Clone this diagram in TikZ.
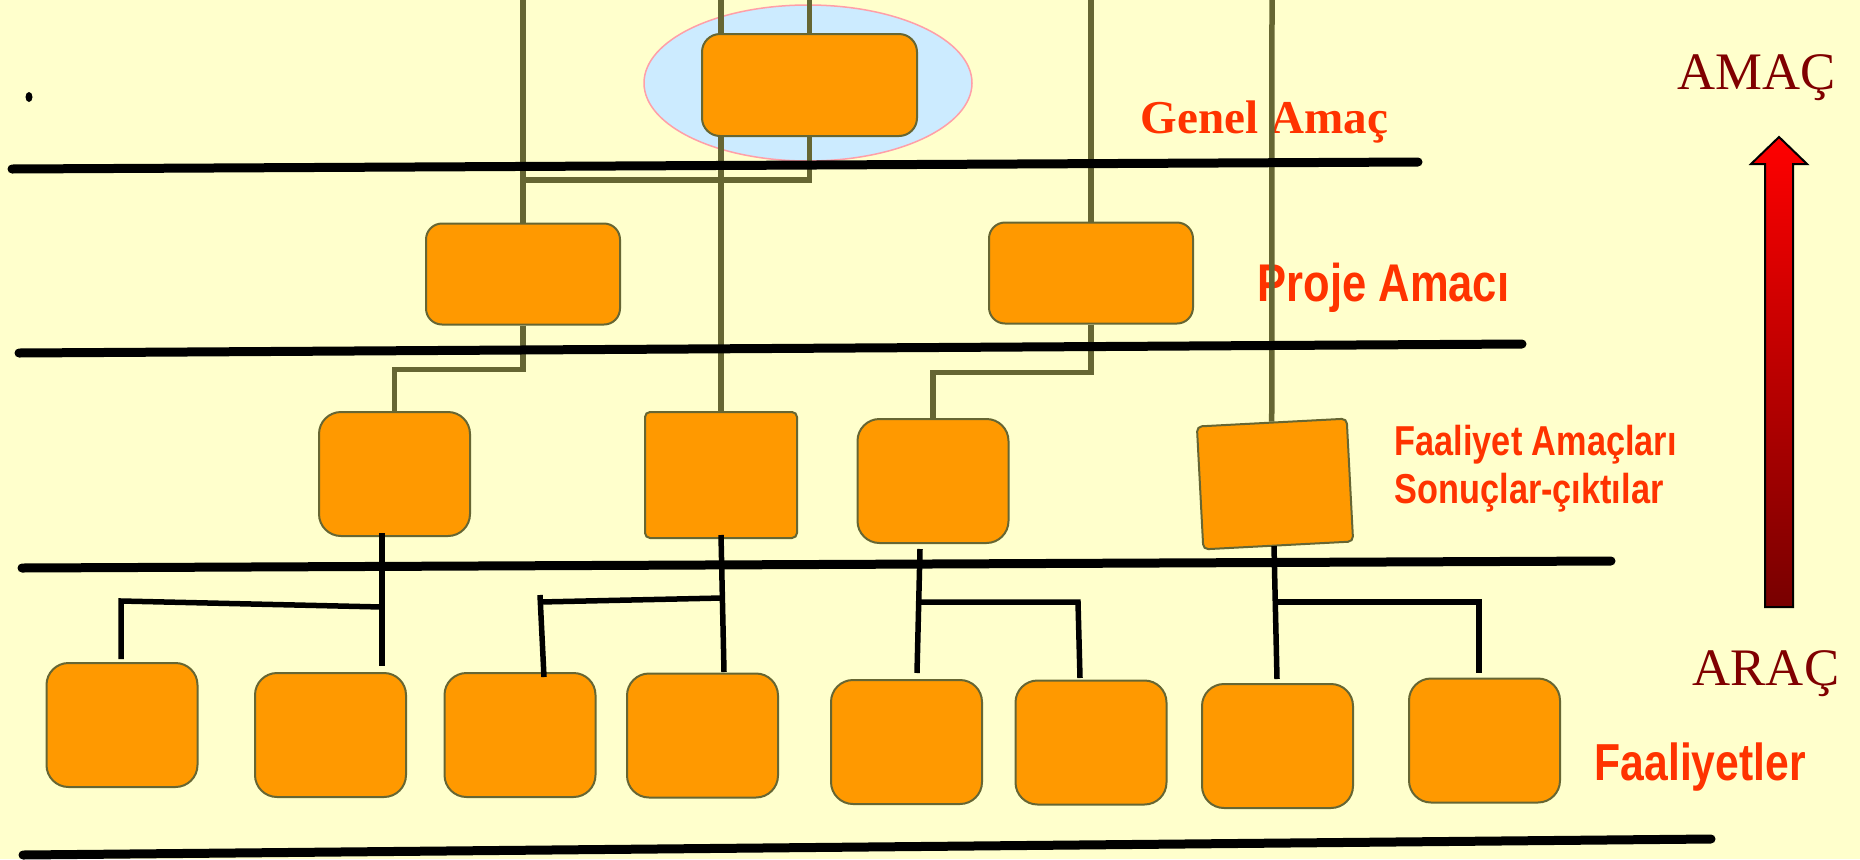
\documentclass[tikz,border=0pt]{standalone}
\usepackage{fontspec}
\setmainfont{Liberation Serif}
\newfontfamily\nsans[FakeStretch=0.82]{Liberation Sans}
\definecolor{bgc}{HTML}{FFFFCC}
\definecolor{olv}{HTML}{666633}
\definecolor{orng}{HTML}{FF9900}
\definecolor{lblred}{HTML}{FF3300}
\definecolor{dred}{HTML}{800000}
\definecolor{dred2}{HTML}{780000}
\definecolor{lblue}{HTML}{CCEBFF}
\definecolor{pinkc}{HTML}{FF9FA8}
\pgfdeclarelayer{back}
\pgfsetlayers{back,main}
\begin{document}
\begin{tikzpicture}[x=0.1mm,y=-0.1mm,
  box/.style={draw=olv, line width=0.2mm, fill=orng, minimum width=15.1mm,
    minimum height=12.4mm, inner sep=0pt, rounded corners=2.2mm},
  oline/.style={draw=olv, line width=0.55mm},
  bline/.style={draw=black, line width=0.55mm},
  rule/.style={draw=black, line width=0.9mm, line cap=round},
  lbl/.style={text=lblred, anchor=base west, inner sep=0pt}]
\useasboundingbox (0,0) rectangle (1860,859);

% boxes
\node[box, rounded corners=1.8mm, minimum width=21.5mm, minimum height=10.2mm] (top) at (809.5,85) {};
\node[box, rounded corners=1.6mm, minimum width=19.4mm, minimum height=10.1mm] (PL) at (523,274) {};
\node[box, rounded corners=1.6mm, minimum width=20.4mm, minimum height=10.1mm] (PR) at (1091,273) {};
\node[box] (A1) at (394.5,474) {};
\node[box, rounded corners=0.5mm, minimum width=15.2mm, minimum height=12.6mm] (A2) at (721,475) {};
\node[box] (A3) at (933,481) {};
\node[box, rounded corners=0.5mm, minimum width=15mm, minimum height=12.3mm, rotate=3] (A4) at (1275,484) {};
\node[box] (B1) at (122,725) {};
\node[box] (B2) at (330.5,735) {};
\node[box] (B3) at (520,735) {};
\node[box] (B4) at (702.5,735.5) {};
\node[box] (B5) at (906.5,742) {};
\node[box] (B6) at (1091,742.5) {};
\node[box] (B7) at (1277.5,746) {};
\node[box] (B8) at (1484.5,740.5) {};

\begin{pgfonlayer}{back}
\fill[bgc] (0,0) rectangle (1860,859);
\fill[lblue] (808,83) ellipse (164 and 78);
\draw[pinkc, line width=0.15mm] (808,83) ellipse (164 and 78);
\fill (29,97) ellipse (3.5 and 5);
% labels
\node[lbl, font=\bfseries\fontsize{13.4}{16}\selectfont] (tgenel) at (1140,133) {Genel Amaç};
\node[lbl, font=\nsans\bfseries\fontsize{15.1}{18}\selectfont] (tproje) at (1257,301) {Proje Amacı};
\node[lbl, font=\nsans\bfseries\fontsize{11.9}{14}\selectfont] (tfa1) at (1394,455) {Faaliyet Amaçları};
\node[lbl, font=\nsans\bfseries\fontsize{11.9}{14}\selectfont] (tfa2) at (1394,503) {Sonuçlar-çıktılar};
\node[lbl, font=\nsans\bfseries\fontsize{14.8}{18}\selectfont] (tfaal) at (1594,780) {Faaliyetler};
\node[lbl, text=dred, font=\fontsize{15}{18}\selectfont] (tamac) at (1677,89) {AMAÇ};
\node[lbl, text=dred, font=\fontsize{15}{18}\selectfont] (tarac) at (1692,685) {ARAÇ};
% olive connectors
\coordinate (o1) at (523,0);
\coordinate (o2) at (721,0);
\coordinate (o3) at (809.5,0);
\coordinate (o4) at (1091,0);
\coordinate (o5) at (1272,0);
\coordinate (j1) at (523,180);
\draw[oline] (o1) -- (PL.north);
\draw[oline] (o2) -- (A2.north);
\draw[oline] (o3) -- (top.north);
\draw[oline] (top.south) |- (j1);
\draw[oline] (o4) -- (PR.north);
\draw[oline] (o5) -- (A4.north);
\draw[oline] (PL.south) -- ++(0,44) -| (A1.north);
\draw[oline] (PR.south) -- ++(0,48) -| (A3.north);
\end{pgfonlayer}

% black level rules
\coordinate (r1a) at (12,169); \coordinate (r1b) at (1418,162);
\coordinate (r2a) at (19,353); \coordinate (r2b) at (1522,344);
\coordinate (r3a) at (22,568); \coordinate (r3b) at (1611,561);
\coordinate (r4a) at (23,855); \coordinate (r4b) at (1711,839);
\draw[rule] (r1a) -- (r1b);
\draw[rule] (r2a) -- (r2b);
\draw[rule] (r3a) -- (r3b);
\draw[rule] (r4a) -- (r4b);

% black connectors
\coordinate (g1a) at (382,533); \coordinate (g1b) at (382,666);
\coordinate (g1j) at (382,607); \coordinate (g1l) at (121,601); \coordinate (g1e) at (121,659);
\draw[bline] (g1a) -- (g1b);
\draw[bline] (g1j) -- (g1l) -- (g1e);
\coordinate (g2a) at (721,535); \coordinate (g2b) at (724,672);
\coordinate (g2j) at (722,598); \coordinate (g2l) at (540,602);
\coordinate (g2t) at (540,595); \coordinate (g2e) at (544,677);
\draw[bline] (g2a) -- (g2b);
\draw[bline] (g2j) -- (g2l);
\draw[bline] (g2t) -- (g2e);
\coordinate (g3a) at (920,549); \coordinate (g3b) at (917,673);
\coordinate (g3j) at (919,602); \coordinate (g3r) at (1078,602); \coordinate (g3e) at (1080,678);
\draw[bline] (g3a) -- (g3b);
\draw[bline] (g3j) -- (g3r) -- (g3e);
\coordinate (g4a) at (1274,546); \coordinate (g4b) at (1277,679);
\coordinate (g4j) at (1275,602); \coordinate (g4r) at (1479,602); \coordinate (g4e) at (1479,673);
\draw[bline] (g4a) -- (g4b);
\draw[bline] (g4j) -- (g4r) -- (g4e);

% arrow
\shadedraw[top color=red, bottom color=dred2, draw=black, line width=0.2mm]
  (1765,607) -- (1765,164) -- (1751,164) -- (1779,137) -- (1807,164) -- (1793,164) -- (1793,607) -- cycle;
\end{tikzpicture}
\end{document}
